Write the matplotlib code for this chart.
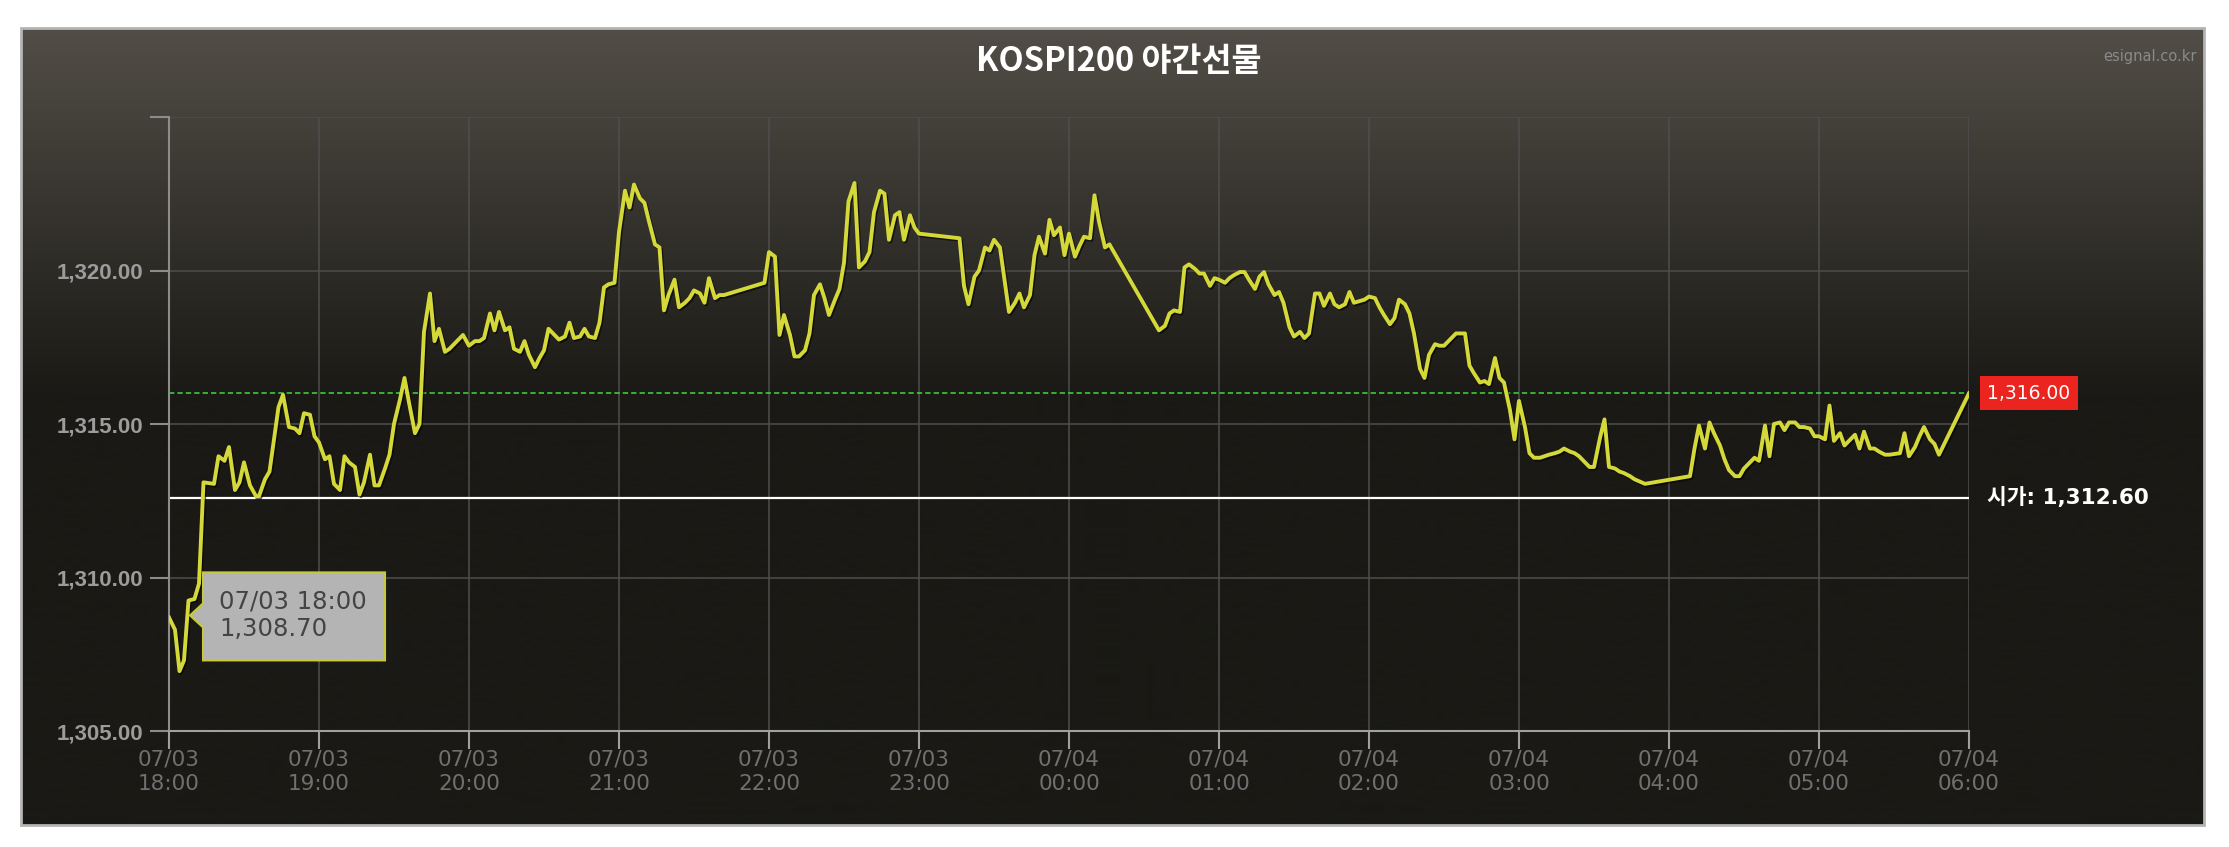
import numpy as np
import matplotlib
matplotlib.use("Agg")
import matplotlib.pyplot as plt
import matplotlib.patheffects as pe
from matplotlib.patches import Rectangle, Polygon
from matplotlib.transforms import IdentityTransform

# hours after 07/03 18:00
times = [
    0.00, 0.04, 0.07, 0.10, 0.13, 0.17, 0.20, 0.23, 0.30, 0.33, 0.37, 0.40, 0.44, 0.47, 0.50, 0.54,
    0.58, 0.60, 0.64, 0.67, 0.70, 0.73, 0.76, 0.80, 0.84, 0.87, 0.90, 0.94, 0.97, 1.00, 1.04, 1.07,
    1.10, 1.14, 1.17, 1.20, 1.24, 1.27, 1.30, 1.34, 1.37, 1.40, 1.44, 1.47, 1.50, 1.54, 1.57, 1.60,
    1.64, 1.67, 1.70, 1.74, 1.77, 1.80, 1.84, 1.87, 1.90, 1.94, 1.96, 2.00, 2.04, 2.07, 2.10, 2.14,
    2.17, 2.20, 2.24, 2.27, 2.30, 2.34, 2.37, 2.40, 2.44, 2.47, 2.50, 2.53, 2.57, 2.60, 2.64, 2.67,
    2.70, 2.74, 2.77, 2.80, 2.84, 2.87, 2.90, 2.93, 2.97, 3.00, 3.04, 3.07, 3.10, 3.14, 3.17, 3.20,
    3.24, 3.27, 3.30, 3.33, 3.37, 3.40, 3.44, 3.47, 3.50, 3.54, 3.57, 3.60, 3.64, 3.67, 3.70, 3.97,
    4.00, 4.04, 4.07, 4.10, 4.14, 4.17, 4.20, 4.24, 4.27, 4.30, 4.34, 4.37, 4.40, 4.44, 4.47, 4.50,
    4.53, 4.57, 4.60, 4.64, 4.67, 4.70, 4.74, 4.77, 4.80, 4.84, 4.87, 4.90, 4.94, 4.97, 5.00, 5.27,
    5.30, 5.33, 5.37, 5.40, 5.44, 5.47, 5.50, 5.54, 5.57, 5.60, 5.64, 5.67, 5.70, 5.74, 5.77, 5.80,
    5.84, 5.87, 5.90, 5.94, 5.97, 6.00, 6.04, 6.07, 6.10, 6.14, 6.17, 6.20, 6.24, 6.27, 6.57, 6.60,
    6.64, 6.67, 6.70, 6.74, 6.77, 6.80, 6.84, 6.87, 6.90, 6.94, 6.97, 7.00, 7.04, 7.07, 7.10, 7.14,
    7.17, 7.20, 7.24, 7.27, 7.30, 7.33, 7.37, 7.40, 7.43, 7.47, 7.50, 7.54, 7.57, 7.60, 7.64, 7.67,
    7.70, 7.74, 7.77, 7.80, 7.84, 7.87, 7.90, 7.97, 8.00, 8.04, 8.07, 8.10, 8.14, 8.17, 8.20, 8.24,
    8.27, 8.30, 8.34, 8.37, 8.40, 8.44, 8.47, 8.50, 8.54, 8.58, 8.64, 8.67, 8.70, 8.74, 8.77, 8.80,
    8.84, 8.87, 8.90, 8.94, 8.97, 9.00, 9.04, 9.07, 9.10, 9.14, 9.17, 9.20, 9.24, 9.27, 9.30, 9.34,
    9.37, 9.40, 9.44, 9.47, 9.50, 9.54, 9.57, 9.60, 9.64, 9.67, 9.70, 9.74, 9.77, 9.84, 10.14, 10.17,
    10.20, 10.24, 10.27, 10.30, 10.34, 10.37, 10.40, 10.44, 10.47, 10.50, 10.54, 10.57, 10.60, 10.64, 10.67, 10.70,
    10.74, 10.77, 10.80, 10.84, 10.87, 10.90, 10.94, 10.97, 11.00, 11.04, 11.07, 11.10, 11.14, 11.17, 11.20, 11.24,
    11.27, 11.30, 11.34, 11.37, 11.40, 11.44, 11.47, 11.54, 11.57, 11.60, 11.64, 11.67, 11.70, 11.74, 11.77, 11.80,
    12.00,
]

prices = [
    1308.70, 1308.30, 1306.95, 1307.30, 1309.25, 1309.30, 1309.80, 1313.10, 1313.05, 1313.95, 1313.80, 1314.25, 1312.85, 1313.10, 1313.75, 1313.00,
    1312.65, 1312.65, 1313.20, 1313.45, 1314.50, 1315.55, 1315.95, 1314.90, 1314.85, 1314.70, 1315.35, 1315.30, 1314.60, 1314.40, 1313.85, 1313.95,
    1313.05, 1312.85, 1313.95, 1313.75, 1313.60, 1312.70, 1313.10, 1314.00, 1313.00, 1313.00, 1313.55, 1314.00, 1315.00, 1315.80, 1316.50, 1315.70,
    1314.70, 1315.00, 1318.00, 1319.25, 1317.70, 1318.10, 1317.35, 1317.45, 1317.60, 1317.80, 1317.90, 1317.55, 1317.70, 1317.70, 1317.80, 1318.60,
    1318.05, 1318.65, 1318.05, 1318.15, 1317.45, 1317.35, 1317.70, 1317.25, 1316.85, 1317.15, 1317.40, 1318.10, 1317.90, 1317.75, 1317.85, 1318.30,
    1317.80, 1317.85, 1318.10, 1317.85, 1317.80, 1318.30, 1319.45, 1319.55, 1319.60, 1321.25, 1322.60, 1322.05, 1322.80, 1322.35, 1322.20, 1321.60,
    1320.85, 1320.75, 1318.70, 1319.20, 1319.70, 1318.80, 1318.95, 1319.10, 1319.35, 1319.25, 1318.95, 1319.75, 1319.10, 1319.20, 1319.20, 1319.60,
    1320.60, 1320.45, 1317.90, 1318.55, 1317.90, 1317.20, 1317.20, 1317.40, 1317.95, 1319.20, 1319.55, 1319.10, 1318.55, 1319.05, 1319.40, 1320.25,
    1322.25, 1322.85, 1320.10, 1320.30, 1320.60, 1321.90, 1322.60, 1322.50, 1321.00, 1321.80, 1321.90, 1321.00, 1321.80, 1321.40, 1321.20, 1321.05,
    1319.50, 1318.90, 1319.80, 1320.00, 1320.75, 1320.65, 1321.00, 1320.75, 1319.70, 1318.65, 1318.95, 1319.25, 1318.80, 1319.20, 1320.50, 1321.10,
    1320.55, 1321.65, 1321.15, 1321.40, 1320.50, 1321.20, 1320.45, 1320.80, 1321.10, 1321.05, 1322.45, 1321.60, 1320.75, 1320.85, 1318.30, 1318.05,
    1318.20, 1318.60, 1318.70, 1318.65, 1320.10, 1320.20, 1320.05, 1319.90, 1319.90, 1319.50, 1319.75, 1319.70, 1319.60, 1319.75, 1319.85, 1319.95,
    1319.95, 1319.70, 1319.40, 1319.80, 1319.95, 1319.55, 1319.20, 1319.30, 1318.95, 1318.15, 1317.85, 1318.00, 1317.80, 1317.95, 1319.25, 1319.25,
    1318.85, 1319.25, 1318.90, 1318.80, 1318.90, 1319.30, 1318.95, 1319.05, 1319.15, 1319.10, 1318.80, 1318.55, 1318.25, 1318.45, 1319.05, 1318.90,
    1318.60, 1317.95, 1316.80, 1316.50, 1317.25, 1317.60, 1317.55, 1317.55, 1317.75, 1317.95, 1317.95, 1316.90, 1316.65, 1316.35, 1316.40, 1316.30,
    1317.15, 1316.50, 1316.35, 1315.45, 1314.50, 1315.75, 1314.90, 1314.05, 1313.90, 1313.90, 1313.95, 1314.00, 1314.05, 1314.10, 1314.20, 1314.10,
    1314.05, 1313.95, 1313.75, 1313.60, 1313.60, 1314.55, 1315.15, 1313.60, 1313.55, 1313.45, 1313.40, 1313.30, 1313.20, 1313.05, 1313.30, 1314.20,
    1314.95, 1314.20, 1315.05, 1314.70, 1314.30, 1313.85, 1313.50, 1313.30, 1313.30, 1313.55, 1313.75, 1313.90, 1313.80, 1314.95, 1313.95, 1315.00,
    1315.05, 1314.80, 1315.05, 1315.05, 1314.90, 1314.90, 1314.85, 1314.60, 1314.60, 1314.50, 1315.60, 1314.45, 1314.70, 1314.30, 1314.45, 1314.65,
    1314.20, 1314.75, 1314.20, 1314.20, 1314.10, 1314.00, 1314.00, 1314.05, 1314.70, 1313.95, 1314.25, 1314.60, 1314.90, 1314.50, 1314.35, 1314.00,
    1316.00,
]

open_price = 1312.60
current_price = prices[-1]

y_ticks = [1305, 1310, 1315, 1320, 1325]
y_labels = ["1,305.00", "1,310.00", "1,315.00", "1,320.00", ""]
x_ticks = list(range(0, 13))
x_labels = ["07/03\n18:00", "07/03\n19:00", "07/03\n20:00", "07/03\n21:00", "07/03\n22:00",
            "07/03\n23:00", "07/04\n00:00", "07/04\n01:00", "07/04\n02:00", "07/04\n03:00",
            "07/04\n04:00", "07/04\n05:00", "07/04\n06:00"]
tooltip_time = "07/03 18:00"

plt.rcParams['font.family'] = ['DejaVu Sans', 'Noto Sans CJK KR']

W, H = 2229, 847
fig = plt.figure(figsize=(W / 100, H / 100), dpi=100)
fig.patch.set_facecolor('white')

# dark gradient panel with light border
fl, ft, fr, fb = 21, 28, 2204, 825
bg = fig.add_axes([fl / W, 1 - fb / H, (fr - fl) / W, (fb - ft) / H])
rows = fb - ft
top_c = np.array([82, 78, 71]) / 255
bot_c = np.array([26, 25, 21]) / 255
frac = np.clip(np.arange(rows) / 370.0, 0, 1)[:, None]
grad = (top_c * (1 - frac) + bot_c * frac)[:, None, :]
bg.imshow(grad, aspect='auto', extent=[0, 1, 0, 1])
bg.set_axis_off()
bg.add_patch(Rectangle((0, 0), 1, 1, transform=bg.transAxes, fill=False,
                       ec='#b4b4b4', lw=2, clip_on=False))

# plot area
al, at, ar, ab = 169, 117, 1969, 731
ax = fig.add_axes([al / W, 1 - ab / H, (ar - al) / W, (ab - at) / H])
ax.set_facecolor('none')
ax.set_xlim(0, 12)
ax.set_ylim(1305, 1325)

ax.set_yticks(y_ticks, y_labels, family=['Liberation Sans', 'DejaVu Sans'],
              fontweight='bold', fontsize=16, color='#9c9c9c')
ax.set_xticks(x_ticks, x_labels, fontsize=15.5, color='#707070', linespacing=1.25)
ax.tick_params(axis='y', direction='out', length=13.5, width=1.5, color='#8c8c8c', pad=5)
ax.tick_params(axis='x', direction='out', length=13, width=1.5, color='#a0a0a0', pad=0.5)
ax.grid(True, color='#4e4e4e', lw=1.1, zorder=0)
for s in ['top', 'right']:
    ax.spines[s].set_visible(False)
ax.spines['left'].set_color('#8c8c8c')
ax.spines['left'].set_linewidth(1.5)
ax.spines['bottom'].set_color('#a0a0a0')
ax.spines['bottom'].set_linewidth(1.5)

ax.axhline(open_price, color='white', lw=1.6, zorder=2)
ax.axhline(current_price, color='#3cdc3c', lw=1.1, ls=(0, (3.5, 2)), zorder=2)

ax.plot(times, prices, color='#d4d838', lw=2.8, zorder=3, solid_joinstyle='round',
        path_effects=[pe.SimpleLineShadow(offset=(1, -1.2), shadow_color='black', alpha=0.6),
                      pe.Normal()])

# right-hand labels
ax.annotate(f"{current_price:,.2f}", xy=(1, current_price), xycoords=('axes fraction', 'data'),
            xytext=(18, 0), textcoords='offset pixels', ha='left', va='center',
            fontsize=13.5, color='white',
            bbox=dict(boxstyle='square,pad=0.4', fc='#ec2420', ec='none'))
ax.annotate(f"시가: {open_price:,.2f}", xy=(1, open_price), xycoords=('axes fraction', 'data'),
            xytext=(18, 0), textcoords='offset pixels', ha='left', va='center',
            fontsize=15.5, fontweight='bold', color='white')

# tooltip for the first point
px, py = ax.transData.transform((times[0], prices[0]))
L, R, T, B = px + 34, px + 216, py + 45, py - 43
tip = Polygon([(L, T), (R, T), (R, B), (L, B), (L, py - 10), (px + 21, py + 2), (L, py + 14)],
              closed=True, transform=IdentityTransform(), fc='#b4b4b4', ec='#c8c83c',
              lw=1.5, zorder=5, clip_on=False)
fig.add_artist(tip)
fig.text(L + 16, py + 2, f"{tooltip_time}\n{prices[0]:,.2f}", transform=IdentityTransform(),
         ha='left', va='center', fontsize=17.5, color='#444444', linespacing=1.2, zorder=6)

# title and watermark
fig.text(1119 / W, 1 - 61 / H, "KOSPI200 야간선물", ha='center', va='center',
         family=['Noto Sans CJK KR', 'DejaVu Sans'], fontweight='bold', fontsize=23.5,
         color='white')
fig.text(2197 / W, 1 - 57 / H, "esignal.co.kr", ha='right', va='center',
         fontsize=10.5, color='#8a8a8a')

fig.savefig("out.png", dpi=100, facecolor=fig.get_facecolor())
